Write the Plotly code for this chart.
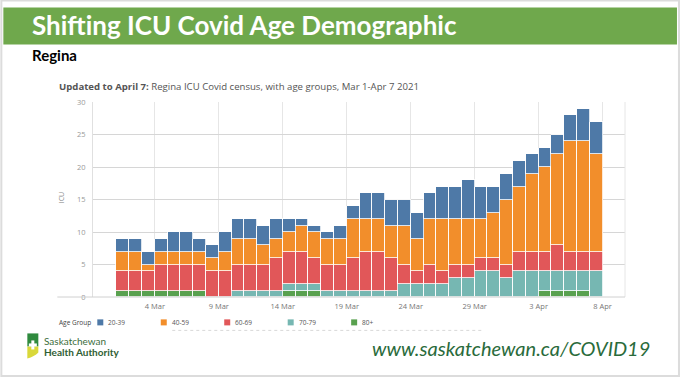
import plotly.graph_objects as go

# ---------------- data ----------------
dates = [f"2021-03-{d:02d}" for d in range(1, 32)] + [f"2021-04-{d:02d}" for d in range(1, 8)]

age_80p = [1,1,1,1,1,1,1,0,0,
           0,0,0,0,1,1,1,0,0,
           0,0,0,0,0,0,0,0,0,0,0,0,0,
           0,0,1,1,1,1,0]
age_70_79 = [0,0,0,0,0,0,0,0,0,
             1,1,1,1,1,1,1,1,1,
             1,1,1,1,2,2,2,2,3,3,4,4,3,
             4,4,3,3,3,3,4]
age_60_69 = [3,3,3,4,4,4,4,4,4,
             4,4,4,5,5,5,4,4,4,
             5,6,6,5,3,2,3,2,2,2,2,2,2,
             3,3,3,4,3,3,3]
age_40_59 = [3,3,1,2,2,2,2,2,3,
             4,4,3,3,3,4,4,4,4,
             6,5,5,5,6,5,7,8,7,7,6,7,10,
             10,12,13,14,17,17,15]
age_20_39 = [2,2,2,2,3,3,2,2,3,
             3,3,3,3,2,1,1,1,2,
             2,4,4,4,4,4,4,5,5,6,5,4,4,
             4,3,3,3,4,5,5]

groups = ["20-39", "40-59", "60-69", "70-79", "80+"]
series = {"20-39": age_20_39, "40-59": age_40_59, "60-69": age_60_69,
          "70-79": age_70_79, "80+": age_80p}
colors = {"20-39": "#4e79a7", "40-59": "#f28e2b", "60-69": "#e15759",
          "70-79": "#76b7b2", "80+": "#59a14f"}

tick_dates = ["2021-03-04", "2021-03-09", "2021-03-14", "2021-03-19",
              "2021-03-24", "2021-03-29", "2021-04-03", "2021-04-08"]
tick_labels = ["4 Mar", "9 Mar", "14 Mar", "19 Mar", "24 Mar", "29 Mar", "3 Apr", "8 Apr"]
y_ticks = [0, 5, 10, 15, 20, 25, 30]

# ---------------- layout geometry (pixels) ----------------
W, H = 680, 377
L, R, T, B = 92.7, 625.0, 102.3, 296.7


def px(x):
    return (x - L) / (R - L)


def py(y):
    return (B - y) / (B - T)


fig = go.Figure()
for g in ["80+", "70-79", "60-69", "40-59", "20-39"]:
    fig.add_trace(go.Bar(
        x=dates, y=series[g], name=g,
        marker=dict(color=colors[g], line=dict(color="white", width=0.8)),
        width=86400000, offset=0, showlegend=False,
    ))

fig.update_layout(
    width=W, height=H,
    margin=dict(l=L, r=W - R, t=T, b=H - B, pad=0),
    paper_bgcolor="white", plot_bgcolor="white",
    barmode="stack", bargap=0,
    font=dict(family="Lato, Open Sans, sans-serif", color="#666"),
)
fig.update_xaxes(
    type="date", range=["2021-02-27 04:00", "2021-04-09 18:00"],
    tickvals=tick_dates, ticktext=tick_labels,
    tickfont=dict(size=7.5, color="#777", family="Open Sans"),
    showgrid=True, gridcolor="#e6e6e6", gridwidth=1,
    showline=False, zeroline=False, ticks="", ticklabelstandoff=3,
)
fig.update_yaxes(
    range=[0, 30], tickvals=y_ticks,
    tickfont=dict(size=7.5, color="#999", family="Open Sans"),
    showgrid=True, gridcolor="#d6d6d6", gridwidth=1,
    showline=True, linecolor="#e0e0e0", mirror=False,
    zeroline=False, ticks="", ticklabelstandoff=5,
)

shapes = []
annos = []
# slide border
shapes.append(dict(type="rect", xref="paper", yref="paper",
                   x0=px(1), x1=px(679), y0=py(375.5), y1=py(1),
                   line=dict(color="#dcdcdc", width=2), fillcolor="rgba(0,0,0,0)", layer="below"))
# green title band
shapes.append(dict(type="rect", xref="paper", yref="paper",
                   x0=px(3), x1=px(677), y0=py(45), y1=py(8),
                   line=dict(width=0), fillcolor="#6fa84c", layer="below"))
# right plot edge
shapes.append(dict(type="line", xref="paper", yref="paper",
                   x0=1, x1=1, y0=0, y1=1, line=dict(color="#e6e6e6", width=1)))
# bottom axis line extending left
shapes.append(dict(type="line", xref="paper", yref="paper",
                   x0=px(57), x1=1, y0=0, y1=0, line=dict(color="#d0d0d0", width=1)))
# faint dotted separator
shapes.append(dict(type="line", xref="paper", yref="paper",
                   x0=px(172), x1=px(482), y0=py(330), y1=py(330),
                   line=dict(color="#d8d8d8", width=1, dash="dot")))

annos.append(dict(text="<b>Shifting ICU Covid Age Demographic</b>", x=px(30), y=py(26),
                  xanchor="left", yanchor="middle", showarrow=False,
                  font=dict(family="Lato", size=26, color="white")))
annos.append(dict(text="<b>Regina</b>", x=px(30), y=py(55),
                  xanchor="left", yanchor="middle", showarrow=False,
                  font=dict(family="Lato", size=15, color="black")))
annos.append(dict(text="<b>Updated to April 7:</b> Regina ICU Covid census, with age groups, Mar 1-Apr 7 2021",
                  x=px(57), y=py(87), xanchor="left", yanchor="middle", showarrow=False,
                  font=dict(family="Open Sans", size=9.6, color="#555")))
annos.append(dict(text="ICU", x=px(62), y=py(198), textangle=-90,
                  xanchor="center", yanchor="middle", showarrow=False,
                  font=dict(family="Open Sans", size=7, color="#888")))

# legend
annos.append(dict(text="Age Group", x=px(57), y=py(322), xanchor="left", yanchor="middle",
                  showarrow=False, font=dict(family="Open Sans", size=6.5, color="#444")))
leg_x = [97, 160.5, 224, 287.5, 351]
for g, lx in zip(groups, leg_x):
    shapes.append(dict(type="rect", xref="paper", yref="paper",
                       x0=px(lx), x1=px(lx + 6), y0=py(325), y1=py(319),
                       line=dict(width=0), fillcolor=colors[g]))
    annos.append(dict(text=g, x=px(lx + 9), y=py(322), xanchor="left", yanchor="middle",
                      showarrow=False, font=dict(family="Open Sans", size=6.5, color="#555")))

# footer logo
shapes.append(dict(type="path", xref="paper", yref="paper",
                   path=(f"M {px(27)} {py(333)} L {px(38)} {py(333)} L {px(38)} {py(346)} "
                         f"L {px(27)} {py(346)} Z"),
                   line=dict(width=0), fillcolor="#2f8a3e"))
shapes.append(dict(type="path", xref="paper", yref="paper",
                   path=(f"M {px(27)} {py(346)} L {px(38)} {py(346)} L {px(38)} {py(352)} "
                         f"Q {px(34)} {py(356)} {px(27)} {py(358)} Z"),
                   line=dict(width=0), fillcolor="#d9d83a"))
shapes.append(dict(type="rect", xref="paper", yref="paper",
                   x0=px(31), x1=px(34), y0=py(349), y1=py(340),
                   line=dict(width=0), fillcolor="white"))
shapes.append(dict(type="rect", xref="paper", yref="paper",
                   x0=px(28.5), x1=px(36.5), y0=py(346), y1=py(343),
                   line=dict(width=0), fillcolor="white"))
annos.append(dict(text="Saskatchewan", x=px(42), y=py(341), xanchor="left", yanchor="middle",
                  showarrow=False, font=dict(family="Lato", size=10, color="#3c6e3c")))
annos.append(dict(text="<b>Health Authority</b>", x=px(42), y=py(352), xanchor="left", yanchor="middle",
                  showarrow=False, font=dict(family="Lato", size=10, color="#2f5e33")))
annos.append(dict(text="<i>www.saskatchewan.ca/COVID19</i>", x=px(652), y=py(348),
                  xanchor="right", yanchor="middle", showarrow=False,
                  font=dict(family="Lato", size=20, color="#2a6b3b")))

for a in annos:
    a.setdefault("xref", "paper")
    a.setdefault("yref", "paper")
fig.update_layout(shapes=shapes, annotations=annos)

fig.write_html("out.html", config={"displayModeBar": False},
               post_script="document.body.style.margin='0';document.body.style.overflow='hidden';")
